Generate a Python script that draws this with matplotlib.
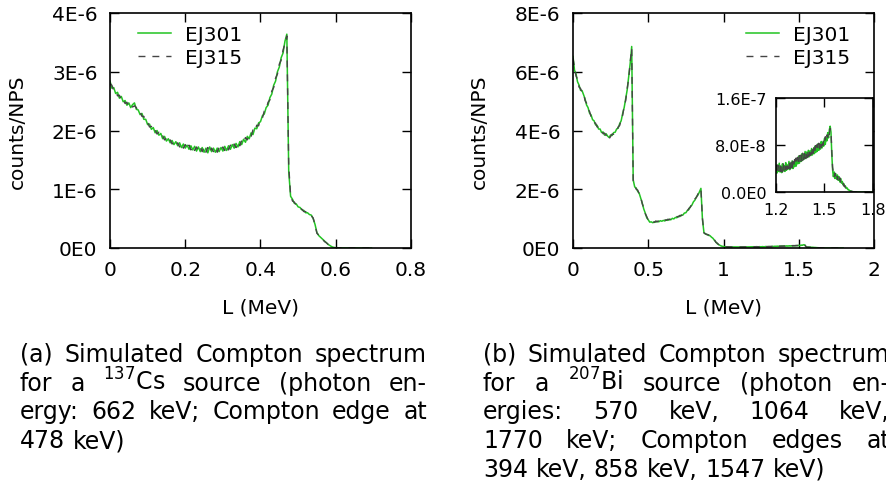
import numpy as np
import matplotlib
matplotlib.use("Agg")
import matplotlib.pyplot as plt

# ---------------- data ----------------
# Panel (a): 137Cs, bins of 0.005 MeV starting at 0, values in units of 1E-6
cs_step = 0.005
cs_ej301 = [2.84, 2.72, 2.73, 2.63, 2.65, 2.55, 2.58, 2.49, 2.51, 2.43,
            2.47, 2.39, 2.44, 2.47, 2.36, 2.35, 2.27, 2.29, 2.19, 2.19,
            2.10, 2.11, 2.02, 2.05, 1.96, 2.00, 1.92, 1.95, 1.86, 1.90,
            1.82, 1.86, 1.79, 1.83, 1.76, 1.81, 1.74, 1.79, 1.71, 1.77,
            1.70, 1.75, 1.68, 1.74, 1.67, 1.73, 1.65, 1.72, 1.64, 1.71,
            1.63, 1.70, 1.62, 1.72, 1.64, 1.70, 1.63, 1.70, 1.64, 1.71,
            1.65, 1.73, 1.66, 1.74, 1.68, 1.76, 1.70, 1.78, 1.72, 1.81,
            1.76, 1.85, 1.80, 1.90, 1.86, 1.96, 1.93, 2.04, 2.03, 2.13,
            2.15, 2.25, 2.28, 2.39, 2.43, 2.56, 2.62, 2.77, 2.84, 3.00,
            3.08, 3.24, 3.32, 3.52, 3.64, 1.30, 0.88, 0.83, 0.76, 0.75,
            0.70, 0.69, 0.65, 0.64, 0.60, 0.60, 0.57, 0.56, 0.50, 0.40,
            0.26, 0.21, 0.18, 0.15, 0.12, 0.09, 0.06, 0.04, 0.02, 0.01,
            0.005, 0.004, 0.003, 0.003, 0.002, 0.002, 0.002, 0.001, 0.001, 0.001,
            0.001, 0.001, 0.0, 0.0, 0.0, 0.0, 0.0, 0.0, 0.0, 0.0]
cs_ej315 = [2.80, 2.77, 2.68, 2.68, 2.59, 2.60, 2.52, 2.54, 2.46, 2.48,
            2.41, 2.44, 2.40, 2.42, 2.39, 2.31, 2.32, 2.24, 2.24, 2.15,
            2.14, 2.06, 2.07, 1.99, 2.01, 1.94, 1.97, 1.89, 1.91, 1.84,
            1.87, 1.80, 1.84, 1.77, 1.81, 1.75, 1.79, 1.72, 1.78, 1.70,
            1.76, 1.68, 1.75, 1.67, 1.73, 1.66, 1.72, 1.65, 1.71, 1.64,
            1.72, 1.63, 1.71, 1.62, 1.70, 1.64, 1.71, 1.63, 1.71, 1.65,
            1.72, 1.66, 1.74, 1.67, 1.75, 1.69, 1.77, 1.71, 1.80, 1.74,
            1.83, 1.79, 1.88, 1.84, 1.94, 1.90, 2.01, 1.98, 2.09, 2.08,
            2.20, 2.21, 2.33, 2.35, 2.48, 2.52, 2.67, 2.73, 2.89, 2.96,
            3.13, 3.20, 3.37, 3.48, 3.61, 1.40, 0.90, 0.80, 0.78, 0.73,
            0.72, 0.67, 0.66, 0.62, 0.62, 0.58, 0.58, 0.55, 0.51, 0.39,
            0.25, 0.22, 0.17, 0.15, 0.11, 0.09, 0.06, 0.04, 0.02, 0.01,
            0.004, 0.004, 0.003, 0.002, 0.002, 0.002, 0.001, 0.001, 0.001, 0.001,
            0.001, 0.0, 0.0, 0.0, 0.0, 0.0, 0.0, 0.0, 0.0, 0.0]

# Panel (b): 207Bi, bins of 0.01 MeV from 0 to 1.19 (units 1E-6)
bi_step = 0.01
bi_ej301 = [6.52, 6.05, 5.93, 5.66, 5.55, 5.37, 5.36, 5.22, 5.08, 4.87,
            4.78, 4.59, 4.53, 4.37, 4.33, 4.19, 4.18, 4.05, 4.05, 3.93,
            3.95, 3.84, 3.89, 3.81, 3.76, 3.85, 3.83, 3.93, 3.94, 4.05,
            4.08, 4.23, 4.33, 4.58, 4.78, 5.08, 5.38, 5.83, 6.28, 6.86,
            2.32, 2.08, 2.04, 1.93, 1.86, 1.70, 1.53, 1.33, 1.19, 1.03,
            0.96, 0.88, 0.89, 0.86, 0.89, 0.88, 0.91, 0.89, 0.93, 0.91,
            0.94, 0.92, 0.96, 0.94, 0.98, 0.96, 1.01, 0.99, 1.04, 1.03,
            1.08, 1.07, 1.12, 1.12, 1.19, 1.20, 1.28, 1.31, 1.41, 1.46,
            1.57, 1.63, 1.74, 1.80, 1.91, 2.03, 0.98, 0.53, 0.47, 0.47,
            0.43, 0.42, 0.37, 0.33, 0.26, 0.20, 0.14, 0.11, 0.08, 0.06,
            0.050, 0.045, 0.040, 0.040, 0.038, 0.037, 0.036, 0.036, 0.035, 0.035,
            0.035, 0.035, 0.036, 0.036, 0.037, 0.037, 0.038, 0.038, 0.039, 0.039]
bi_ej315 = [6.46, 6.14, 5.86, 5.74, 5.48, 5.43, 5.30, 5.28, 5.02, 4.93,
            4.72, 4.65, 4.47, 4.43, 4.27, 4.25, 4.12, 4.11, 3.99, 3.99,
            3.89, 3.91, 3.83, 3.88, 3.72, 3.80, 3.88, 3.87, 3.98, 3.99,
            4.12, 4.17, 4.37, 4.52, 4.82, 5.02, 5.42, 5.77, 6.32, 6.80,
            2.28, 2.12, 2.00, 1.97, 1.84, 1.74, 1.51, 1.37, 1.17, 1.07,
            0.94, 0.92, 0.87, 0.90, 0.87, 0.92, 0.89, 0.93, 0.91, 0.95,
            0.92, 0.96, 0.94, 0.98, 0.96, 1.00, 0.99, 1.03, 1.02, 1.07,
            1.06, 1.11, 1.10, 1.16, 1.17, 1.24, 1.26, 1.35, 1.39, 1.50,
            1.55, 1.67, 1.72, 1.84, 1.89, 2.01, 1.02, 0.51, 0.49, 0.45,
            0.45, 0.41, 0.39, 0.32, 0.28, 0.19, 0.16, 0.10, 0.08, 0.06,
            0.050, 0.044, 0.041, 0.039, 0.038, 0.037, 0.036, 0.035, 0.035, 0.036,
            0.035, 0.036, 0.036, 0.037, 0.036, 0.038, 0.037, 0.039, 0.038, 0.040]

# Panel (b) high-energy part, bins of 0.005 MeV from 1.2 MeV (units 1E-8)
tail_start = 1.2
tail_step = 0.005
tail_ej301 = [4.3, 3.2, 4.6, 3.5, 4.9, 3.4, 4.4, 3.3, 4.8, 3.6,
              4.5, 3.5, 5.0, 3.7, 4.6, 3.9, 5.2, 3.8, 4.9, 4.1,
              5.3, 4.0, 5.1, 4.3, 5.6, 4.4, 5.5, 4.8, 6.1, 4.9,
              6.2, 5.2, 6.5, 5.4, 6.4, 5.6, 6.9, 5.7, 6.8, 5.9,
              7.1, 6.0, 7.0, 6.2, 7.4, 6.3, 7.3, 6.5, 7.8, 6.7,
              7.6, 6.9, 8.2, 7.1, 8.0, 7.3, 8.6, 7.5, 8.5, 7.8,
              9.1, 8.1, 9.3, 8.7, 10.1, 9.2, 10.6, 11.2, 10.2, 6.5,
              3.8, 2.6, 3.4, 2.3, 3.1, 2.2, 2.9, 2.0, 2.6, 1.7,
              2.3, 1.5, 1.8, 1.2, 1.4, 0.9, 1.0, 0.6, 0.7, 0.4,
              0.4, 0.2, 0.2, 0.1, 0.1, 0.05, 0.05, 0.03, 0.03, 0.02,
              0.02, 0.01, 0.01, 0.01, 0.0, 0.0, 0.0, 0.0, 0.0, 0.0,
              0.0, 0.0, 0.0, 0.0, 0.0, 0.0, 0.0, 0.0, 0.0, 0.0]
tail_ej315 = [3.6, 4.6, 3.4, 4.5, 3.6, 4.7, 3.5, 4.6, 3.4, 4.8,
              3.7, 4.7, 3.8, 5.0, 3.9, 4.9, 4.0, 5.1, 4.0, 5.3,
              4.2, 5.4, 4.5, 5.5, 4.6, 5.8, 4.8, 5.9, 5.0, 6.2,
              5.1, 6.3, 5.3, 6.6, 5.5, 6.7, 5.7, 6.8, 5.8, 7.1,
              6.0, 7.2, 6.2, 7.3, 6.4, 7.6, 6.6, 7.7, 6.8, 7.9,
              7.0, 8.1, 7.2, 8.3, 7.4, 8.4, 7.6, 8.8, 7.9, 9.0,
              8.4, 9.4, 8.6, 9.7, 9.3, 10.4, 9.8, 10.8, 10.5, 7.0,
              4.2, 3.3, 2.5, 3.2, 2.4, 3.0, 2.1, 2.8, 1.9, 2.4,
              1.7, 2.0, 1.3, 1.5, 1.0, 1.1, 0.7, 0.8, 0.5, 0.5,
              0.3, 0.3, 0.1, 0.15, 0.1, 0.05, 0.04, 0.03, 0.03, 0.02,
              0.02, 0.01, 0.01, 0.0, 0.0, 0.0, 0.0, 0.0, 0.0, 0.0,
              0.0, 0.0, 0.0, 0.0, 0.0, 0.0, 0.0, 0.0, 0.0, 0.0]

series_labels = ["EJ301", "EJ315"]

a_xticks = [0, 0.2, 0.4, 0.6, 0.8]
a_xticklabels = ["0", "0.2", "0.4", "0.6", "0.8"]
a_yticks = [0, 1e-6, 2e-6, 3e-6, 4e-6]
a_yticklabels = ["0E0", "1E-6", "2E-6", "3E-6", "4E-6"]

b_xticks = [0, 0.5, 1, 1.5, 2]
b_xticklabels = ["0", "0.5", "1", "1.5", "2"]
b_yticks = [0, 2e-6, 4e-6, 6e-6, 8e-6]
b_yticklabels = ["0E0", "2E-6", "4E-6", "6E-6", "8E-6"]

in_xticks = [1.2, 1.5, 1.8]
in_xticklabels = ["1.2", "1.5", "1.8"]
in_yticks = [0, 8e-8, 1.6e-7]
in_yticklabels = ["0.0E0", "8.0E-8", "1.6E-7"]

caption_a = [
    (["(a)", "Simulated", "Compton", "spectrum"], True),
    (["for", "a", r"$^{137}$Cs", "source", "(photon", "en-"], True),
    (["ergy:", "662", "keV;", "Compton", "edge", "at"], True),
    (["478", "keV)"], False),
]
caption_b = [
    (["(b)", "Simulated", "Compton", "spectrum"], True),
    (["for", "a", r"$^{207}$Bi", "source", "(photon", "en-"], True),
    (["ergies:", "570", "keV,", "1064", "keV,"], True),
    (["1770", "keV;", "Compton", "edges", "at"], True),
    (["394", "keV,", "858", "keV,", "1547", "keV)"], False),
]

# ---------------- figure ----------------
W, H = 887, 485
fig = plt.figure(figsize=(W / 100, H / 100), dpi=100)

GREEN = "#22c322"
GRAY = "#454545"
FS = 14.5


def px_axes(l, t, r, b):
    return fig.add_axes([l / W, 1 - b / H, (r - l) / W, (b - t) / H])


def style(ax, xt, xtl, yt, ytl, fs, length=6.5, pad=9):
    ax.set_xticks(xt)
    ax.set_xticklabels(xtl)
    ax.set_yticks(yt)
    ax.set_yticklabels(ytl)
    ax.tick_params(direction="in", top=True, right=True, length=length,
                   width=1.0, labelsize=fs, pad=pad, colors="black")
    for s in ax.spines.values():
        s.set_linewidth(1.2)
        s.set_color("black")


def plot_pair(ax, x1, y1, x2, y2):
    ax.plot(x1, y1, color=GREEN, lw=1.1, label=series_labels[0])
    ax.plot(x2, y2, color=GRAY, lw=1.0, dashes=(5, 5), label=series_labels[1])


def add_legend(ax, xfrac):
    ax.legend(loc="upper left", bbox_to_anchor=(xfrac, 0.947), frameon=False,
              fontsize=FS, handlelength=1.65, handletextpad=0.7,
              labelspacing=0.2, borderaxespad=0.0, borderpad=0.0)


# panel (a)
axa = px_axes(110, 14, 411, 249)
xa1 = cs_step * np.arange(len(cs_ej301))
xa2 = cs_step * np.arange(len(cs_ej315))
plot_pair(axa, xa1, np.array(cs_ej301) * 1e-6, xa2, np.array(cs_ej315) * 1e-6)
axa.set_xlim(0, 0.8)
axa.set_ylim(0, 4e-6)
style(axa, a_xticks, a_xticklabels, a_yticks, a_yticklabels, FS)
axa.set_xlabel("L (MeV)", fontsize=FS)
axa.set_ylabel("counts/NPS", fontsize=FS)
axa.xaxis.set_label_coords(0.5, -0.21)
axa.yaxis.set_label_coords(-0.275, 0.5)
add_legend(axa, 0.093)

# panel (b)
axb = px_axes(573, 14, 874, 249)
xb1 = np.concatenate([bi_step * np.arange(len(bi_ej301)),
                      tail_start + tail_step * np.arange(len(tail_ej301))])
yb1 = np.concatenate([np.array(bi_ej301) * 1e-6, np.array(tail_ej301) * 1e-8])
xb2 = np.concatenate([bi_step * np.arange(len(bi_ej315)),
                      tail_start + tail_step * np.arange(len(tail_ej315))])
yb2 = np.concatenate([np.array(bi_ej315) * 1e-6, np.array(tail_ej315) * 1e-8])
plot_pair(axb, xb1, yb1, xb2, yb2)
axb.set_xlim(0, 2)
axb.set_ylim(0, 8e-6)
style(axb, b_xticks, b_xticklabels, b_yticks, b_yticklabels, FS)
axb.set_xlabel("L (MeV)", fontsize=FS)
axb.set_ylabel("counts/NPS", fontsize=FS)
axb.xaxis.set_label_coords(0.5, -0.21)
axb.yaxis.set_label_coords(-0.28, 0.5)
add_legend(axb, 0.575)

# inset
axi = px_axes(776, 99, 873, 193)
plot_pair(axi, xb1, yb1, xb2, yb2)
axi.set_xlim(1.2, 1.8)
axi.set_ylim(0, 1.6e-7)
style(axi, in_xticks, in_xticklabels, in_yticks, in_yticklabels, 11.5, length=6.5, pad=7)
axi.tick_params(axis="x", pad=7)

# captions (justified)
renderer = fig.canvas.get_renderer()


def caption(lines, x0, x1, y0, dy, fs=17):
    sp = fig.text(0, 0, "a a", fontsize=fs)
    sp2 = fig.text(0, 0, "aa", fontsize=fs)
    space = sp.get_window_extent(renderer).width - sp2.get_window_extent(renderer).width
    sp.remove()
    sp2.remove()
    for k, (words, just) in enumerate(lines):
        y = y0 + k * dy
        texts = [fig.text(0, 1 - y / H, w, fontsize=fs, va="baseline", ha="left")
                 for w in words]
        widths = [t.get_window_extent(renderer).width for t in texts]
        if just and len(words) > 1:
            gap = ((x1 - x0) - sum(widths)) / (len(words) - 1)
        else:
            gap = space
        x = x0
        for t, w in zip(texts, widths):
            t.set_x(x / W)
            x += w + gap


caption(caption_a, 20, 427, 362, 28.7)
caption(caption_b, 483, 890, 362, 28.7)

fig.savefig("out.png", dpi=100)
